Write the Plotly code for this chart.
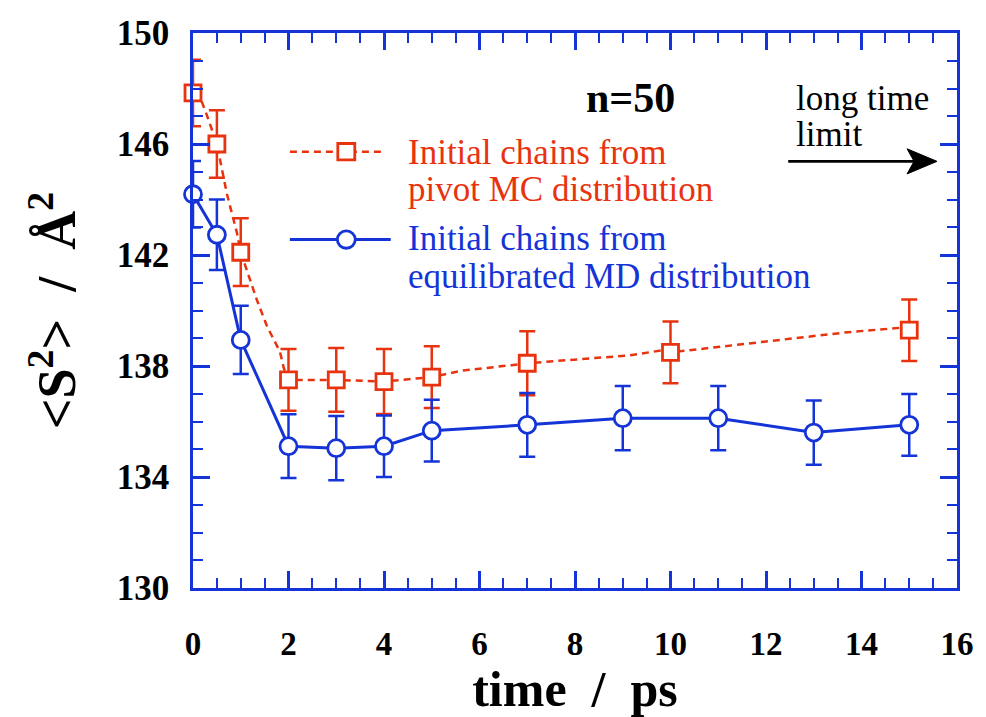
import plotly.graph_objects as go

RED = "#E8330F"
BLUE = "#1434D8"

# ---- data ----
mc_t = [0, 0.5, 1, 2, 3, 4, 5, 7, 10, 15]
mc_s2 = [147.84, 146.0, 142.1, 137.5, 137.5, 137.44, 137.6, 138.1, 138.49, 139.29]
mc_err = [1.2, 1.22, 1.22, 1.11, 1.15, 1.17, 1.11, 1.15, 1.11, 1.11]

mc_line_t = [0, 0.19, 0.29, 0.5, 0.71, 0.92, 1, 1.13, 1.34, 1.55, 1.82, 1.9, 2,
             3, 4, 5, 5.63, 6.67, 7, 9.12, 9.81, 10, 11.97, 13.72, 14.9, 15]
mc_line_s2 = [147.84, 147.5, 147.04, 146.0, 144.2, 142.8, 142.1, 141.41, 140.37,
              139.43, 138.52, 137.93, 137.5, 137.5, 137.44, 137.6, 137.83, 138.03,
              138.1, 138.38, 138.56, 138.49, 138.87, 139.22, 139.39, 139.29]

md_t = [0, 0.5, 1, 2, 3, 4, 5, 7, 9, 11, 13, 15]
md_s2 = [144.19, 142.73, 138.94, 135.11, 135.04, 135.11, 135.67, 135.88, 136.12,
         136.12, 135.6, 135.88]
md_err = [1.2, 1.27, 1.23, 1.15, 1.16, 1.11, 1.11, 1.15, 1.16, 1.16, 1.16, 1.11]

x_tick_vals = [0, 2, 4, 6, 8, 10, 12, 14, 16]
x_tick_text = ["0", "2", "4", "6", "8", "10", "12", "14", "16"]
y_tick_vals = [130, 134, 138, 142, 146, 150]
y_tick_text = ["130", "134", "138", "142", "146", "150"]

legend_mc = ["Initial chains from", "pivot MC distribution"]
legend_md = ["Initial chains from", "equilibrated MD distribution"]

# ---- layout geometry ----
W, H = 986, 717
L, R, T, B = 193, 28, 33, 109
PW, PH = W - L - R, H - T - B


def px(x):
    return (x - L) / PW


def py(y):
    return (H - B - y) / PH


SERIF = "Liberation Serif, Times New Roman, serif"

fig = go.Figure()

# red dashed line (finely sampled run)
fig.add_trace(go.Scatter(
    x=mc_line_t, y=mc_line_s2, mode="lines",
    line=dict(color=RED, width=2.5, dash="7px,5px"),
    showlegend=False, cliponaxis=False, hoverinfo="skip"))

# red squares with error bars
fig.add_trace(go.Scatter(
    x=mc_t, y=mc_s2, mode="markers",
    marker=dict(symbol="square", size=16, color="white",
                line=dict(color=RED, width=2.8)),
    error_y=dict(type="data", array=mc_err, visible=True, color=RED,
                 thickness=2.5, width=8),
    name="Initial chains from pivot MC distribution",
    showlegend=False, cliponaxis=False))

# blue solid line with circles
fig.add_trace(go.Scatter(
    x=md_t, y=md_s2, mode="lines+markers",
    line=dict(color=BLUE, width=3),
    marker=dict(symbol="circle", size=17, color="white",
                line=dict(color=BLUE, width=2.8)),
    error_y=dict(type="data", array=md_err, visible=True, color=BLUE,
                 thickness=2.5, width=8),
    name="Initial chains from equilibrated MD distribution",
    showlegend=False, cliponaxis=False))

axis_common = dict(
    showline=True, linecolor=BLUE, linewidth=2.5, mirror="allticks",
    ticks="inside", tickcolor=BLUE, tickwidth=2.5, ticklen=17,
    showgrid=False, zeroline=False,
)

fig.update_xaxes(
    range=[0, 16], tickmode="array", tickvals=x_tick_vals, ticktext=x_tick_text,
    minor=dict(dtick=0.5, ticks="inside", ticklen=10, tickwidth=2, tickcolor=BLUE),
    tickfont=dict(family=SERIF, size=33, color="black", weight="bold"),
    ticklabelstandoff=25,
    title=dict(text="time\u00a0\u00a0/\u00a0 ps",
               font=dict(family=SERIF, size=50, color="black", weight="bold"),
               standoff=8),
    **axis_common)

fig.update_yaxes(
    range=[130, 150], tickmode="array", tickvals=y_tick_vals, ticktext=y_tick_text,
    minor=dict(dtick=1, ticks="inside", ticklen=10, tickwidth=2, tickcolor=BLUE),
    tickfont=dict(family=SERIF, size=35, color="black", weight="bold"),
    ticklabelstandoff=14,
    title=dict(text="&lt;S<sup>2</sup>&gt;\u00a0 /\u00a0 Å<sup>2</sup>",
               font=dict(family=SERIF, size=54, color="black", weight="bold"),
               standoff=24),
    **axis_common)

shapes = []
# legend sample: red dashed + square
shapes.append(dict(type="line", xref="paper", yref="paper",
                   x0=px(290), x1=px(384), y0=py(156), y1=py(156),
                   line=dict(color=RED, width=2.5, dash="7px,5px")))
shapes.append(dict(type="rect", xref="paper", yref="paper",
                   x0=px(338), x1=px(355), y0=py(147.5), y1=py(164.5),
                   fillcolor="white", line=dict(color=RED, width=2.8)))
# legend sample: blue solid + circle
shapes.append(dict(type="line", xref="paper", yref="paper",
                   x0=px(290), x1=px(391), y0=py(247), y1=py(247),
                   line=dict(color=BLUE, width=3)))
shapes.append(dict(type="circle", xref="paper", yref="paper",
                   x0=px(337.5), x1=px(355.5), y0=py(238), y1=py(256),
                   fillcolor="white", line=dict(color=BLUE, width=2.8)))
# "long time limit" arrow
shapes.append(dict(type="line", xref="paper", yref="paper",
                   x0=px(789), x1=px(920), y0=py(166), y1=py(166),
                   line=dict(color="black", width=2.6)))
shapes.append(dict(type="path", xref="paper", yref="paper",
                   path=(f"M {px(938)},{py(166)} L {px(908)},{py(153)} "
                         f"L {px(915)},{py(166)} L {px(908)},{py(179)} Z"),
                   fillcolor="black", line=dict(color="black", width=1)))

annotations = []
leg_font = 35
for txt, yy in zip(legend_mc, [157, 195]):
    annotations.append(dict(text=txt, x=px(406), y=py(yy), xref="paper", yref="paper",
                            xanchor="left", yanchor="middle", showarrow=False,
                            font=dict(family=SERIF, size=leg_font, color=RED)))
for txt, yy in zip(legend_md, [246, 285]):
    annotations.append(dict(text=txt, x=px(406), y=py(yy), xref="paper", yref="paper",
                            xanchor="left", yanchor="middle", showarrow=False,
                            font=dict(family=SERIF, size=leg_font, color=BLUE)))

annotations.append(dict(text="n=50", x=px(631), y=py(100), xref="paper", yref="paper",
                        xanchor="center", yanchor="middle", showarrow=False,
                        font=dict(family=SERIF, size=42, color="black", weight="bold")))
annotations.append(dict(text="long time", x=px(795), y=py(101), xref="paper", yref="paper",
                        xanchor="left", yanchor="middle", showarrow=False,
                        font=dict(family=SERIF, size=35, color="black")))
annotations.append(dict(text="limit", x=px(795), y=py(138), xref="paper", yref="paper",
                        xanchor="left", yanchor="middle", showarrow=False,
                        font=dict(family=SERIF, size=35, color="black")))

fig.update_layout(
    width=W, height=H,
    margin=dict(l=L, r=R, t=T, b=B, pad=0),
    paper_bgcolor="white", plot_bgcolor="white",
    shapes=shapes, annotations=annotations,
    showlegend=False,
)

fig.write_html("out.html")
